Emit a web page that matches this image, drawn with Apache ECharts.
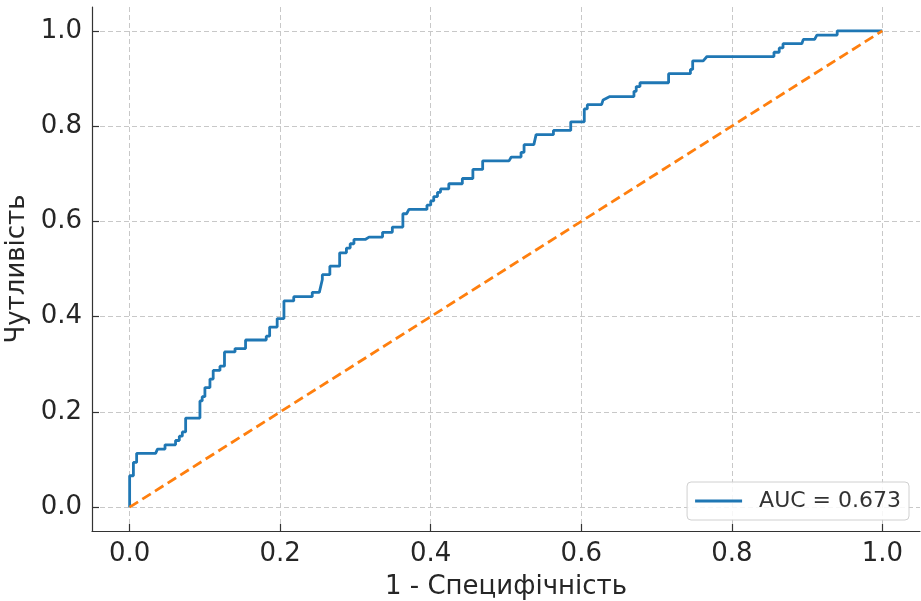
<!DOCTYPE html>
<html>
<head>
<meta charset="utf-8">
<script src="https://cdn.jsdelivr.net/npm/echarts@6/dist/echarts.min.js"></script>
<style>html,body{margin:0;padding:0;background:#fff}#c{width:921px;height:601px}</style>
</head>
<body>
<div id="c"></div>
<script>
const fpr = [0,0,0.005,0.005,0.0093,0.0093,0.0345,0.037,0.047,0.047,0.061,0.061,0.066,0.066,0.070,0.070,0.0744,0.0744,0.0934,0.0934,0.0964,0.0964,0.100,0.100,0.1067,0.1067,0.111,0.111,0.120,0.120,0.126,0.126,0.140,0.140,0.154,0.154,0.1815,0.1815,0.186,0.186,0.196,0.196,0.205,0.205,0.218,0.218,0.2426,0.2426,0.252,0.256,0.256,0.266,0.266,0.279,0.279,0.288,0.288,0.293,0.293,0.298,0.298,0.313,0.318,0.336,0.336,0.349,0.349,0.363,0.363,0.368,0.371,0.395,0.395,0.400,0.400,0.404,0.404,0.409,0.409,0.413,0.413,0.424,0.424,0.442,0.442,0.456,0.456,0.469,0.469,0.504,0.507,0.520,0.520,0.524,0.524,0.537,0.540,0.563,0.563,0.586,0.586,0.604,0.604,0.608,0.608,0.627,0.629,0.638,0.670,0.670,0.673,0.673,0.678,0.678,0.716,0.716,0.745,0.745,0.748,0.748,0.762,0.767,0.856,0.856,0.863,0.863,0.868,0.868,0.893,0.895,0.910,0.913,0.940,0.940,1.0];
const tpr = [0,0.066,0.066,0.094,0.094,0.113,0.113,0.122,0.122,0.131,0.131,0.140,0.140,0.149,0.149,0.158,0.158,0.187,0.187,0.223,0.223,0.232,0.232,0.251,0.251,0.269,0.269,0.287,0.287,0.296,0.296,0.326,0.326,0.333,0.333,0.351,0.351,0.359,0.359,0.378,0.378,0.396,0.396,0.433,0.433,0.442,0.442,0.451,0.451,0.478,0.488,0.488,0.506,0.506,0.534,0.534,0.544,0.544,0.553,0.553,0.562,0.562,0.567,0.567,0.577,0.577,0.588,0.588,0.616,0.616,0.625,0.625,0.634,0.634,0.643,0.643,0.652,0.652,0.661,0.661,0.668,0.668,0.679,0.679,0.690,0.690,0.709,0.709,0.727,0.727,0.735,0.735,0.745,0.745,0.761,0.761,0.782,0.782,0.791,0.791,0.809,0.809,0.836,0.836,0.845,0.845,0.855,0.862,0.862,0.873,0.873,0.883,0.883,0.891,0.891,0.910,0.910,0.919,0.919,0.937,0.937,0.946,0.946,0.955,0.955,0.964,0.964,0.973,0.973,0.982,0.982,0.991,0.991,1.0,1.0];
const chanceX = [0, 1];
const chanceY = [0, 1];
const ticks = [0, 0.2, 0.4, 0.6, 0.8, 1.0];
const curveName = 'AUC = 0.673';
const xTitle = '1 - Специфічність';
const yTitle = 'Чутливість';

const font = 'DejaVu Sans';
const chart = echarts.init(document.getElementById('c'), null, {renderer: 'canvas'});
function axis(name, gap, rot) {
  return {
    type: 'value', min: -0.05, max: 1.05,
    name: name, nameLocation: 'middle', nameGap: gap, nameRotate: rot,
    nameTextStyle: {fontFamily: font, fontSize: 26, color: '#262626'},
    axisLine: {show: true, onZero: false, lineStyle: {color: '#333', width: 1.2}},
    axisTick: {show: true, inside: true, length: 7, customValues: ticks, lineStyle: {color: '#333', width: 1.2}},
    axisLabel: {customValues: ticks, fontFamily: font, fontSize: 26, color: '#262626', margin: 10,
      formatter: v => v.toFixed(1)},
    splitLine: {show: true, lineStyle: {color: '#c8c8c8', type: [5, 3], width: 1}}
  };
}
chart.setOption({
  animation: false,
  backgroundColor: '#fff',
  grid: {left: 92, right: 1, top: 7, bottom: 70, containLabel: false, outerBoundsMode: 'none'},
  xAxis: axis(xTitle, 43, 0),
  yAxis: axis(yTitle, 60, 90),
  legend: {
    data: [curveName], right: 12, bottom: 81,
    orient: 'vertical',
    padding: [8, 8, 8, 8],
    borderColor: '#d0d0d0', borderWidth: 1, borderRadius: 4, backgroundColor: 'rgba(255,255,255,0.85)',
    icon: 'rect', itemWidth: 47, itemHeight: 3, itemGap: 6,
    textStyle: {fontFamily: font, fontSize: 22, color: '#333', padding: [0, 0, 0, 12]}
  },
  series: [
    {
      name: curveName, type: 'line', symbol: 'none',
      data: fpr.map((x, i) => [x, tpr[i]]),
      lineStyle: {color: '#1f77b4', width: 2.8}, itemStyle: {color: '#1f77b4'}, z: 3
    },
    {
      name: 'chance', type: 'line', symbol: 'none',
      data: chanceX.map((x, i) => [x, chanceY[i]]),
      lineStyle: {color: '#ff7f0e', width: 2.8, type: [10, 5]}, itemStyle: {color: '#ff7f0e'}, z: 4
    }
  ]
});
</script>
</body>
</html>
